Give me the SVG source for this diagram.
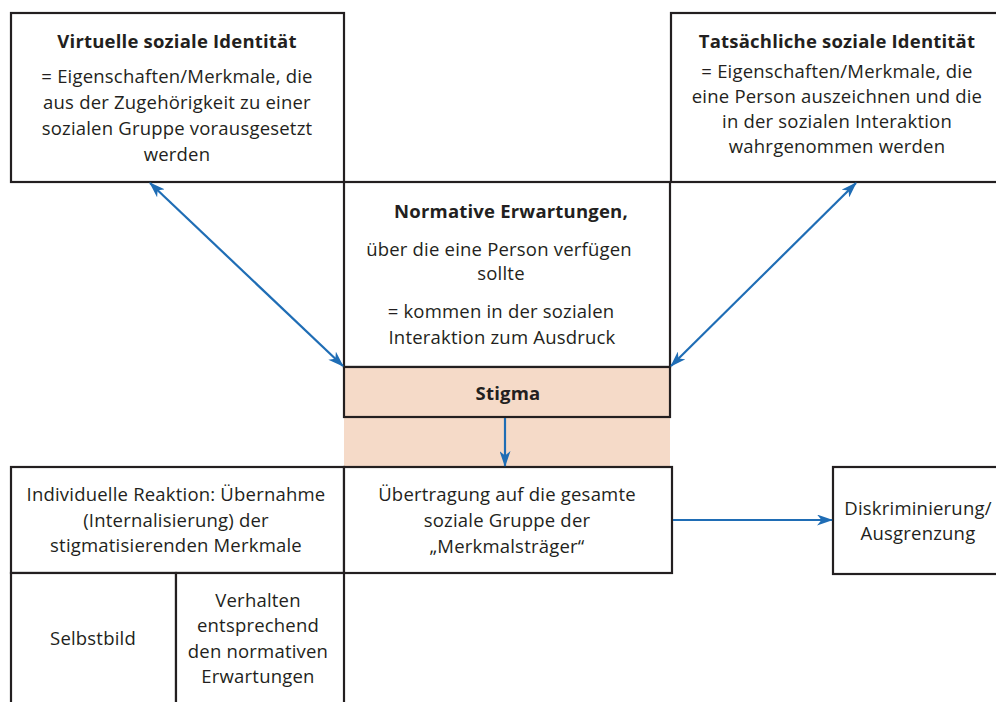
<svg xmlns="http://www.w3.org/2000/svg" width="996" height="702" viewBox="0 0 996 702">
<style>
.box{fill:#fff;stroke:#231f20;stroke-width:2.2}
.t{font-family:"Open Sans","Liberation Sans",Arial,sans-serif;font-size:18.5px;letter-spacing:0.2px;fill:#231f20;text-anchor:middle}
.b{font-weight:bold}
.c{fill:none;stroke:#1f6db5;stroke-width:2.2}
</style>
<defs>
<marker id="ah" viewBox="0 0 16 11" refX="15" refY="5.5" markerWidth="16" markerHeight="11" markerUnits="userSpaceOnUse" orient="auto-start-reverse">
<path d="M0,0 L16,5.5 L0,11 L4.5,5.5 Z" fill="#1f6db5"/>
</marker>
</defs>
<rect width="996" height="702" fill="#fff"/>
<g id="peach-band"><rect x="344" y="417" width="326" height="50" fill="#f5dac8"/></g>
<g id="virtuelle">
<rect class="box" x="11" y="13" width="333" height="169"/>
<text class="t"><tspan class="b" x="177" y="48">Virtuelle soziale Identität</tspan><tspan x="177" y="83">= Eigenschaften/Merkmale, die</tspan><tspan x="177" y="109">aus der Zugehörigkeit zu einer</tspan><tspan x="177" y="135">sozialen Gruppe vorausgesetzt</tspan><tspan x="177" y="161">werden</tspan></text>
</g>
<g id="tatsaechliche">
<rect class="box" x="671" y="13" width="340" height="169"/>
<text class="t"><tspan class="b" x="837" y="48">Tatsächliche soziale Identität</tspan><tspan x="837" y="78">= Eigenschaften/Merkmale, die</tspan><tspan x="837" y="103">eine Person auszeichnen und die</tspan><tspan x="837" y="128">in der sozialen Interaktion</tspan><tspan x="837" y="153">wahrgenommen werden</tspan></text>
</g>
<g id="normative">
<rect class="box" x="344" y="182" width="326" height="185"/>
<text class="t"><tspan class="b" x="511" y="218">Normative Erwartungen,</tspan><tspan x="499" y="256">über die eine Person verfügen</tspan><tspan x="501" y="280">sollte</tspan><tspan x="501" y="318">= kommen in der sozialen</tspan><tspan x="502" y="344">Interaktion zum Ausdruck</tspan></text>
</g>
<g id="stigma">
<rect x="344" y="367" width="326" height="50" fill="#f5dac8" stroke="#231f20" stroke-width="2.2"/>
<text class="t b" x="508" y="400">Stigma</text>
</g>
<g id="individuelle">
<rect class="box" x="11" y="467" width="333" height="106"/>
<text class="t"><tspan x="176" y="501">Individuelle Reaktion: Übernahme</tspan><tspan x="176" y="527">(Internalisierung) der</tspan><tspan x="176" y="552">stigmatisierenden Merkmale</tspan></text>
</g>
<g id="uebertragung">
<rect class="box" x="344" y="467" width="328" height="106"/>
<text class="t"><tspan x="507" y="501">Übertragung auf die gesamte</tspan><tspan x="507" y="527">soziale Gruppe der</tspan><tspan x="507" y="553">„Merkmalsträger“</tspan></text>
</g>
<g id="diskriminierung">
<rect class="box" x="833" y="467" width="180" height="107"/>
<text class="t"><tspan x="918" y="515">Diskriminierung/</tspan><tspan x="918" y="540">Ausgrenzung</tspan></text>
</g>
<g id="selbstbild">
<rect class="box" x="11" y="573" width="165" height="140"/>
<text class="t" x="93" y="645">Selbstbild</text>
</g>
<g id="verhalten">
<rect class="box" x="176" y="573" width="168" height="140"/>
<text class="t"><tspan x="258" y="607">Verhalten</tspan><tspan x="258" y="632">entsprechend</tspan><tspan x="258" y="658">den normativen</tspan><tspan x="258" y="683">Erwartungen</tspan></text>
</g>
<g id="connectors">
<line class="c" x1="343" y1="366" x2="150" y2="183" marker-start="url(#ah)" marker-end="url(#ah)"/>
<line class="c" x1="671" y1="366" x2="856" y2="183" marker-start="url(#ah)" marker-end="url(#ah)"/>
<line class="c" x1="505" y1="418" x2="505" y2="466" marker-end="url(#ah)"/>
<line class="c" x1="673" y1="520" x2="832" y2="520" marker-end="url(#ah)"/>
</g>
</svg>
